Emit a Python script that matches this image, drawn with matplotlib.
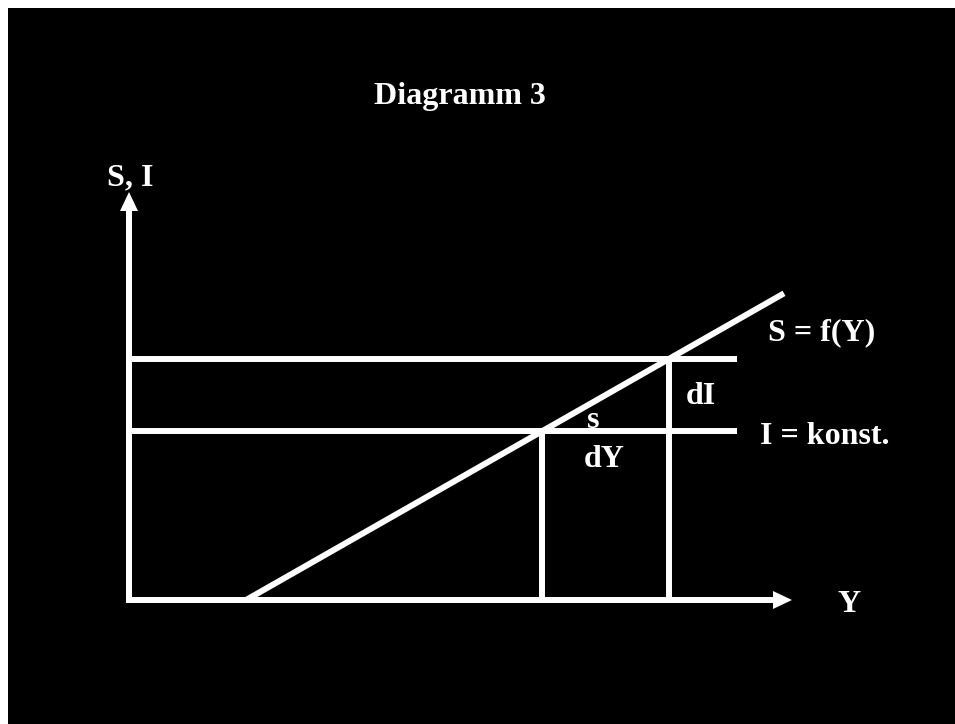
"""Diagramm 3: Sparfunktion S = f(Y) und autonome Investition I = konst."""

import matplotlib.pyplot as plt
from matplotlib.patches import Rectangle

# economic quantities (arbitrary units, origin at axis crossing)
Y_AXIS_MAX = 6.63
SI_AXIS_MAX = 4.08
I_LEVELS = [1.69, 2.41]       # I = konst. before and after the increase dI
I_LINE_END = 6.08
S_INTERCEPT_Y = 1.17          # income where saving is zero
S_SLOPE = 0.570               # marginal propensity to save s
S_LINE_END = 6.55

FONT = ["Liberation Serif", "DejaVu Serif"]
FS = 23
LW = 4.3

# equilibrium incomes where S = I
y_equil = [S_INTERCEPT_Y + lvl / S_SLOPE for lvl in I_LEVELS]


def label(ax, x, y, text, **kw):
    ax.text(x, y, text, color="white", fontsize=FS, fontweight="bold",
            family=FONT, va="baseline", **kw)


def main() -> None:
    fig = plt.figure(figsize=(9.55, 7.24), dpi=100, facecolor="white")
    ax = fig.add_axes([0, 0, 1, 1])
    ax.set_xlim(-1.29, 8.26)
    ax.set_ylim(-1.24, 6.00)
    ax.axis("off")
    fig.patches.append(Rectangle((8 / 955, 0), 1, 716 / 724, transform=fig.transFigure,
                                 facecolor="black", edgecolor="none", zorder=-1))

    arrow = dict(width=0.06, head_width=0.18, head_length=0.19, color="white",
                 lw=0, length_includes_head=True)
    ax.arrow(0, -0.03, 0, SI_AXIS_MAX + 0.03, **arrow)
    ax.arrow(-0.03, 0, Y_AXIS_MAX + 0.03, 0, **arrow)

    for lvl in I_LEVELS:
        ax.plot([0, I_LINE_END], [lvl, lvl], color="white", lw=LW, solid_capstyle="butt")
    for ye, lvl in zip(y_equil, I_LEVELS):
        ax.plot([ye, ye], [0, lvl], color="white", lw=LW, solid_capstyle="butt")

    s_end = S_SLOPE * (S_LINE_END - S_INTERCEPT_Y)
    ax.plot([S_INTERCEPT_Y, S_LINE_END], [0, s_end], color="white", lw=LW,
            solid_capstyle="butt")

    # text placed in the same data units as the axes
    label(ax, 3.31, 4.96, "Diagramm 3", ha="center")
    label(ax, -0.22, 4.15, "S, I")
    label(ax, 6.39, 2.60, "S = f(Y)")
    label(ax, 6.31, 1.56, "I = konst.")
    label(ax, 5.57, 1.96, "dI")
    label(ax, 4.58, 1.72, "s")
    label(ax, 4.55, 1.33, "dY")
    label(ax, 7.08, -0.12, "Y")

    fig.savefig("out.png", dpi=100, facecolor="white")


if __name__ == "__main__":
    main()
